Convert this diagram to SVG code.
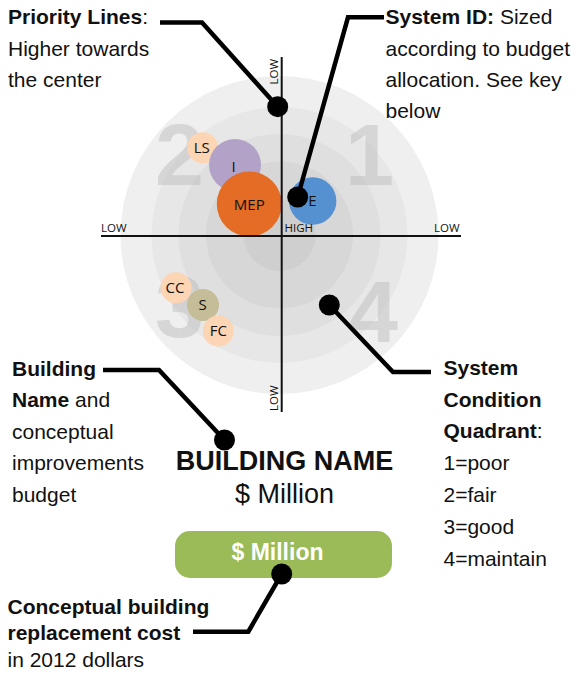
<svg xmlns="http://www.w3.org/2000/svg" width="576" height="673" viewBox="0 0 576 673">
<style>
.t{font-family:"Liberation Sans",Arial,sans-serif;font-size:21px;fill:#111}
.b{font-weight:bold}
.big{font-family:"Liberation Sans",Arial,sans-serif;font-weight:bold;font-size:88px;fill:#b8b8b8;fill-opacity:0.45}
.ax{font-family:"Open Sans","DejaVu Sans",sans-serif;font-size:11.5px;fill:#111}
.bl{font-family:"Open Sans","DejaVu Sans",sans-serif;font-size:15px;fill:#111;text-anchor:middle}
.ld{fill:none;stroke:#000;stroke-width:4.5;stroke-linejoin:miter}
.dot{fill:#000}
.axis{stroke:#111;stroke-width:2}
</style>
<rect width="576" height="673" fill="#fff"/>
<g id="rings">
<circle cx="279.5" cy="235" r="159" fill="#efefef"/>
<circle cx="279.5" cy="235" r="128" fill="#e7e7e7"/>
<circle cx="279.5" cy="235" r="101" fill="#dfdfdf"/>
<circle cx="279.5" cy="235" r="73.5" fill="#d7d7d7"/>
<circle cx="279.5" cy="235" r="36" fill="#cfcfcf"/>
</g>
<g id="quadrant-numbers">
<text class="big" x="155" y="185">2</text>
<text class="big" x="345" y="185">1</text>
<text class="big" x="155" y="337">3</text>
<text class="big" x="349" y="342">4</text>
</g>
<g id="bubbles">
<g id="LS"><circle cx="202.7" cy="147.7" r="15.5" fill="#fcd5b4"/><text class="bl" x="201.7" y="153.3">LS</text></g>
<g id="I"><circle cx="235" cy="165" r="26" fill="#b3a2c7"/><text class="bl" x="233.5" y="171.5">I</text></g>
<g id="MEP"><circle cx="249.3" cy="204" r="32.5" fill="#e46c25"/><text class="bl" x="249.3" y="209.5">MEP</text></g>
<g id="E"><circle cx="312.7" cy="201" r="23.7" fill="#5590d0"/><text class="bl" x="312.3" y="205.5">E</text></g>
<g id="CC"><circle cx="176" cy="287.7" r="15.5" fill="#fcd5b4"/><text class="bl" x="175" y="293.3">CC</text></g>
<g id="S"><circle cx="203" cy="305" r="16" fill="#c4bd97"/><text class="bl" x="202.7" y="310.3">S</text></g>
<g id="FC"><circle cx="218.3" cy="331" r="15.5" fill="#fcd5b4"/><text class="bl" x="218.3" y="336.3">FC</text></g>
</g>
<g id="axes">
<line class="axis" x1="101" y1="236" x2="461" y2="236"/>
<line class="axis" x1="281.7" y1="57" x2="281.7" y2="412"/>
<text class="ax" x="101" y="231.5">LOW</text>
<text class="ax" x="434" y="231.5">LOW</text>
<text class="ax" x="284.5" y="231.5">HIGH</text>
<text class="ax" transform="translate(278,84.5) rotate(-90)">LOW</text>
<text class="ax" transform="translate(278,411) rotate(-90)">LOW</text>
</g>
<g id="title">
<text class="t b" x="284.5" y="470" text-anchor="middle" style="font-size:27px">BUILDING NAME</text>
<text class="t" x="284.5" y="503" text-anchor="middle" style="font-size:27px">$ Million</text>
</g>
<g id="replacement-cost">
<rect x="175" y="531" width="217" height="47" rx="15" fill="#9bbb59"/>
<text class="t b" x="277.5" y="559.5" text-anchor="middle" style="font-size:23px;fill:#fff">$ Million</text>
</g>
<g id="priority-note">
<text class="t" x="8" y="24"><tspan class="b">Priority Lines</tspan>:</text>
<text class="t" x="8" y="55.5">Higher towards</text>
<text class="t" x="8" y="87">the center</text>
</g>
<g id="system-id-note">
<text class="t" x="385.5" y="24.3"><tspan class="b">System ID:</tspan> Sized</text>
<text class="t" x="385.5" y="55.5">according to budget</text>
<text class="t" x="385.5" y="87">allocation. See key</text>
<text class="t" x="385.5" y="118">below</text>
</g>
<g id="building-note">
<text class="t b" x="12" y="375.7">Building</text>
<text class="t" x="12" y="407"><tspan class="b">Name</tspan> and</text>
<text class="t" x="12" y="438.5">conceptual</text>
<text class="t" x="12" y="470">improvements</text>
<text class="t" x="12" y="501.7">budget</text>
</g>
<g id="condition-note">
<text class="t b" x="443.5" y="375">System</text>
<text class="t b" x="443.5" y="406.7">Condition</text>
<text class="t" x="443.5" y="438.3"><tspan class="b">Quadrant</tspan>:</text>
<text class="t" x="443.5" y="470">1=poor</text>
<text class="t" x="443.5" y="501.7">2=fair</text>
<text class="t" x="443.5" y="534">3=good</text>
<text class="t" x="443.5" y="566">4=maintain</text>
</g>
<g id="cost-note">
<text class="t b" x="7.5" y="614">Conceptual building</text>
<text class="t b" x="7.5" y="640">replacement cost</text>
<text class="t" x="7.5" y="666.7">in 2012 dollars</text>
</g>
<g id="connectors">
<polyline class="ld" points="160,22.5 202,22.5 277.7,106.7"/>
<circle class="dot" cx="277.7" cy="106.7" r="10.5"/>
<polyline class="ld" points="384,17.3 348,17.3 297.7,197"/>
<circle class="dot" cx="297.7" cy="197" r="10.5"/>
<polyline class="ld" points="329.3,305 393,372 431,372"/>
<circle class="dot" cx="329.3" cy="305" r="10.5"/>
<polyline class="ld" points="103,370 159,370 224.5,440"/>
<circle class="dot" cx="224.5" cy="440" r="10.5"/>
<polyline class="ld" points="281.7,574 248.3,631.7 193,631.7"/>
<circle class="dot" cx="281.7" cy="574" r="10.5"/>
</g>
</svg>
